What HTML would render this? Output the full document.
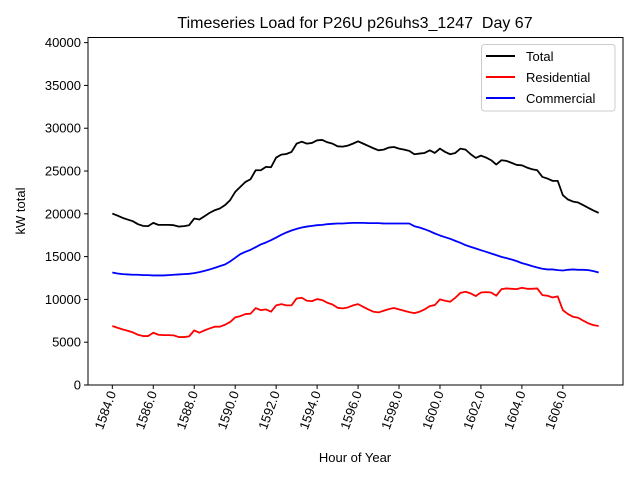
<!DOCTYPE html>
<html><head><meta charset="utf-8"><style>
body{margin:0;background:#fff}
svg{display:block;font-family:"Liberation Sans","DejaVu Sans",sans-serif}
</style></head><body>
<svg id="chart" width="640" height="480">
<rect width="640" height="480" fill="#fff"/>
<text x="355" y="28" font-size="16" text-anchor="middle" xml:space="preserve">Timeseries Load for P26U p26uhs3_1247  Day 67</text>
<g id="grid"></g>
<g id="series"></g>
<rect x="88" y="37.5" width="535" height="347.5" fill="none" stroke="#000" stroke-width="1"/>
<g id="axes"></g>
<text x="355" y="462" font-size="13" text-anchor="middle">Hour of Year</text>
<text transform="translate(25,211) rotate(-90)" font-size="13" text-anchor="middle">kW total</text>
<g>
<rect x="481.5" y="44.5" width="133.5" height="66.5" rx="3" fill="#fff" fill-opacity="0.8" stroke="#ccc"/>
<line x1="486" y1="56" x2="515" y2="56" stroke="#000" stroke-width="2"/>
<text x="526" y="61" font-size="13">Total</text>
<line x1="486" y1="77" x2="515" y2="77" stroke="#f00" stroke-width="2"/>
<text x="526" y="82" font-size="13">Residential</text>
<line x1="486" y1="98" x2="515" y2="98" stroke="#00f" stroke-width="2"/>
<text x="526" y="103" font-size="13">Commercial</text>
</g>
</svg>
<script>
const startHour = 1584;
const stepHours = 0.25;
const totalKW = [20030,19800,19530,19330,19140,18790,18590,18560,18940,18710,18710,18710,18670,18510,18560,18670,19450,19330,19720,20110,20420,20620,21010,21590,22560,23150,23730,24040,25090,25090,25480,25440,26570,26920,26990,27230,28200,28430,28200,28280,28590,28630,28360,28200,27890,27850,27970,28200,
28470,28200,27930,27660,27420,27500,27740,27810,27620,27500,27350,26960,27040,27110,27420,27110,27620,27230,26960,27110,27620,27500,26960,26530,26800,26570,26260,25750,26260,26180,25950,25710,25670,25400,25210,25090,24310,24120,23850,23850,22170,21670,21430,21320,21010,20690,20380,20110];
const residentialKW = [6890,6690,6500,6340,6150,5870,5720,5720,6110,5870,5830,5830,5800,5600,5600,5680,6380,6110,6380,6610,6810,6810,7040,7350,7900,8050,8290,8330,8990,8750,8830,8560,9300,9450,9300,9300,10110,10190,9840,9800,10040,9920,9610,9410,9020,8950,9060,9300,
9450,9140,8830,8560,8480,8680,8870,8990,8830,8680,8520,8400,8560,8830,9220,9340,10000,9840,9730,10190,10770,10890,10700,10390,10810,10850,10810,10430,11200,11280,11240,11200,11360,11240,11240,11280,10500,10430,10230,10350,8750,8290,7970,7860,7510,7200,7000,6890];
const commercialKW = [13150,13030,12950,12920,12880,12880,12840,12840,12800,12800,12800,12840,12880,12920,12950,12990,13070,13190,13340,13500,13690,13890,14080,14430,14860,15290,15560,15790,16100,16420,16650,16920,17230,17550,17820,18050,18240,18400,18510,18590,18670,18710,18790,18830,18870,18870,18910,18940,
18940,18940,18910,18910,18910,18870,18870,18870,18870,18870,18870,18550,18400,18200,17970,17700,17470,17270,17080,16840,16610,16340,16140,15950,15750,15560,15360,15170,14970,14820,14660,14470,14240,14080,13890,13730,13580,13500,13500,13420,13380,13460,13500,13460,13460,13420,13310,13150];
const xTicks = [1584,1586,1588,1590,1592,1594,1596,1598,1600,1602,1604,1606];
const xTickLabels = ["1584.0","1586.0","1588.0","1590.0","1592.0","1594.0","1596.0","1598.0","1600.0","1602.0","1604.0","1606.0"];
const yTicks = [0,5000,10000,15000,20000,25000,30000,35000,40000];

const NS = "http://www.w3.org/2000/svg";
const plotL = 88, plotR = 623, plotT = 37.5, plotB = 385;
const xMin = 1582.8125, xMax = 1608.9375;
const yMin = 0, yMax = 40600;
function xScale(h){ return plotL + (h - xMin) / (xMax - xMin) * (plotR - plotL); }
function yScale(v){ return plotB - (v - yMin) / (yMax - yMin) * (plotB - plotT); }

const axes = document.getElementById('axes');
xTicks.forEach((t, i) => {
  const x = xScale(t);
  const tk = document.createElementNS(NS, 'line');
  tk.setAttribute('x1', x); tk.setAttribute('x2', x);
  tk.setAttribute('y1', plotB); tk.setAttribute('y2', plotB + 4);
  tk.setAttribute('stroke', '#000');
  
  
  axes.appendChild(tk);
  const lb = document.createElementNS(NS, 'text');
  lb.setAttribute('transform', `translate(${x + 4},${plotB + 8}) rotate(-70)`);
  lb.setAttribute('text-anchor', 'end');
  lb.setAttribute('font-size', '13');
  lb.textContent = xTickLabels[i];
  
  
  axes.appendChild(lb);
});
yTicks.forEach(t => {
  const y = yScale(t);
  const tk = document.createElementNS(NS, 'line');
  tk.setAttribute('x1', plotL - 4); tk.setAttribute('x2', plotL);
  tk.setAttribute('y1', y); tk.setAttribute('y2', y);
  tk.setAttribute('stroke', '#000');
  
  
  axes.appendChild(tk);
  const lb = document.createElementNS(NS, 'text');
  lb.setAttribute('x', plotL - 7); lb.setAttribute('y', y + 4.5);
  lb.setAttribute('text-anchor', 'end');
  lb.setAttribute('font-size', '13');
  lb.textContent = String(t);
  
  
  axes.appendChild(lb);
});

const series = document.getElementById('series');
function drawLine(vals, color, name){
  const pts = vals.map((v, i) => xScale(startHour + i * stepHours).toFixed(2) + ',' + yScale(v).toFixed(2)).join(' ');
  const pl = document.createElementNS(NS, 'polyline');
  pl.setAttribute('points', pts);
  pl.setAttribute('fill', 'none');
  pl.setAttribute('stroke', color);
  pl.setAttribute('stroke-width', '1.8');
  pl.setAttribute('stroke-linejoin', 'round');
  
  
  series.appendChild(pl);
}
drawLine(totalKW, '#000', 'total-line');
drawLine(residentialKW, '#f00', 'residential-line');
drawLine(commercialKW, '#00f', 'commercial-line');
</script>
</body></html>
